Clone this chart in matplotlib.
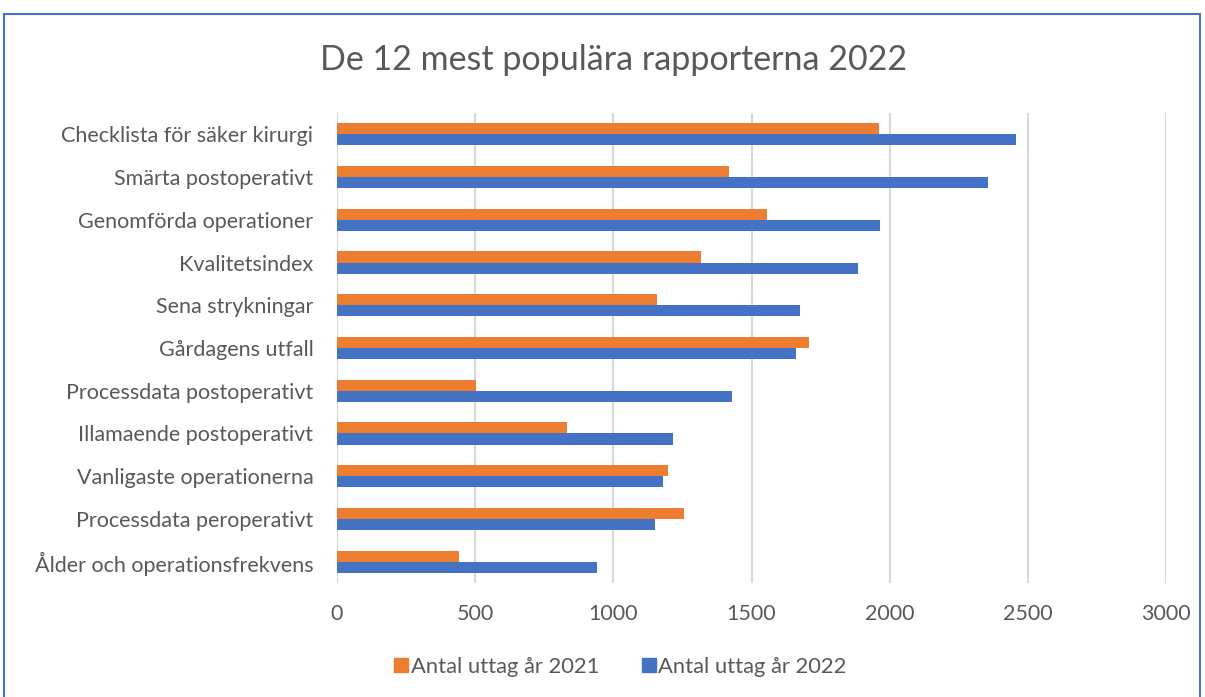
import matplotlib.pyplot as plt
import numpy as np
from matplotlib.lines import Line2D

rapporter = [
    "Checklista för säker kirurgi",
    "Smärta postoperativt",
    "Genomförda operationer",
    "Kvalitetsindex",
    "Sena strykningar",
    "Gårdagens utfall",
    "Processdata postoperativt",
    "Illamaende postoperativt",
    "Vanligaste operationerna",
    "Processdata peroperativt",
    "Ålder och operationsfrekvens",
]
uttag_2021 = [1960, 1420, 1557, 1316, 1157, 1709, 504, 834, 1199, 1257, 441]
uttag_2022 = [2458, 2355, 1965, 1886, 1676, 1661, 1431, 1217, 1180, 1151, 940]

ORANGE = "#ED7D31"
BLUE = "#4472C4"
GREY = "#595959"

plt.rcParams['font.family'] = ['Lato', 'DejaVu Sans']

W, H = 1205, 697
fig = plt.figure(figsize=(W / 100, H / 100), dpi=100)
ax = fig.add_axes([337 / W, 1 - 583 / H, (1166 - 337) / W, (583 - 113) / H])

y = np.arange(len(rapporter))
h = 0.26
ax.barh(y - h / 2, uttag_2021, height=h, color=ORANGE, label="Antal uttag år 2021", zorder=3)
ax.barh(y + h / 2, uttag_2022, height=h, color=BLUE, label="Antal uttag år 2022", zorder=3)

ax.set_xlim(0, 3000)
ax.set_ylim(len(rapporter) - 0.5, -0.5)
ax.set_xticks(range(0, 3001, 500))
ax.set_yticks(y)
ax.set_yticklabels(rapporter)
ax.grid(axis='x', color="#D9D9D9", linewidth=1.5, zorder=0)
for s in ax.spines.values():
    s.set_visible(False)
ax.tick_params(axis='both', length=0, labelsize=15.5, colors=GREY)
ax.tick_params(axis='y', pad=17)
ax.tick_params(axis='x', pad=15)

fig.text(614 / W, 1 - 60 / H, "De 12 mest populära rapporterna 2022",
         ha='center', va='center', fontsize=24.5, color=GREY)

handles = [Line2D([], [], marker='s', linestyle='none', markersize=10.5, color=c) for c in (ORANGE, BLUE)]
fig.legend(handles, ["Antal uttag år 2021", "Antal uttag år 2022"], loc='center',
           bbox_to_anchor=(620 / W, 1 - 667 / H), ncol=2, frameon=False,
           fontsize=15.8, labelcolor=GREY, handletextpad=0.1, columnspacing=1.9,
           handlelength=0.7)

# blue frame around the chart area
frame = plt.Rectangle((3.5 / W, -0.1), (1200 - 3.5) / W, 1.1 - 14 / H,
                      transform=fig.transFigure, fill=False, edgecolor=BLUE, linewidth=1.5)
fig.add_artist(frame)

fig.savefig("out.png", dpi=100, facecolor='white')
